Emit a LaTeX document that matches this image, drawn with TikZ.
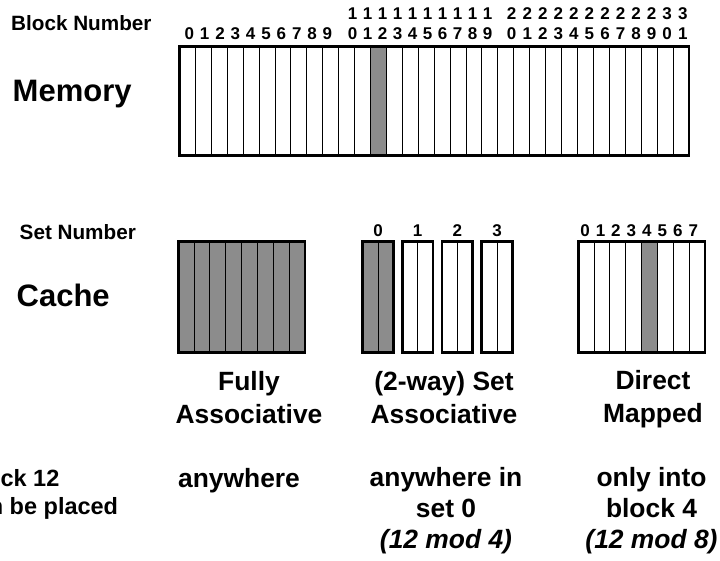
\documentclass[tikz,border=0pt]{standalone}
\usepackage{fontspec}
\setmainfont{Liberation Sans}
\usetikzlibrary{calc}
\definecolor{hit}{RGB}{140,140,140}
\begin{document}
\begin{tikzpicture}[x=1pt,y=-1pt,
  cellbox/.style={draw=black, line width=1pt, inner sep=0pt, outer sep=0pt,
    anchor=north west, minimum width=#1},
  memcell/.style={cellbox=15.92pt, minimum height=108.6pt},
  cachecell/.style={cellbox=15.83pt, minimum height=111pt},
  setcell/.style={cellbox=15.3pt, minimum height=111pt},
  frame/.style={draw=black, line width=2.6pt},
  digit/.style={anchor=base, inner sep=0pt, font=\fontsize{17}{20}\selectfont\bfseries},
  heading/.style={anchor=base west, inner sep=0pt, font=\fontsize{20.7}{24}\selectfont\bfseries},
  title/.style={anchor=base west, inner sep=0pt, font=\fontsize{31}{36}\selectfont\bfseries},
  caption/.style={anchor=base, inner sep=0pt, align=center, font=\fontsize{26.4}{33}\selectfont\bfseries},
  note/.style={caption, font=\fontsize{26.4}{31}\selectfont\bfseries},
]
\useasboundingbox (0,0) rectangle (720,561);
\clip (0,0) rectangle (720,561);

% ---- main memory: 32 blocks, block 12 highlighted ----
\foreach \i in {0,...,31}{
  \ifnum\i=12 \def\fc{hit}\else\def\fc{white}\fi
  \node[memcell, fill=\fc] (m\i) at ({179.5+15.92*\i},46.7) {};
}
\draw[frame] (m0.north west) rectangle (m31.south east);

% block numbers
\foreach \k in {0,...,9}
  \node[digit] (bn\k) at ({189.3+15.35*\k},40) {\k};
\foreach \k in {0,...,9}{
  \node[digit] (bn1\k) at ({352.7+15*\k},40) {\k};
  \node[digit] (tn1\k) at ({352.7+15*\k},19.3) {1};
}
\foreach \k in {0,...,11}{
  \pgfmathtruncatemacro{\lo}{mod(\k,10)}
  \pgfmathtruncatemacro{\hi}{\k<10 ? 2 : 3}
  \pgfmathtruncatemacro{\n}{20+\k}
  \node[digit] (bn\n) at ({511.7+15.55*\k},40) {\lo};
  \node[digit] (tn\n) at ({511.7+15.55*\k},19.3) {\hi};
}

% ---- fully associative cache ----
\foreach \i in {0,...,7}
  \node[cachecell, fill=hit] (fa\i) at ({178.3+15.83*\i},241.7) {};
\draw[frame] (fa0.north west) rectangle (fa7.south east);

% ---- 2-way set associative cache: 4 sets ----
\foreach \s in {0,...,3}{
  \ifnum\s=0 \def\fc{hit}\else\def\fc{white}\fi
  \foreach \j in {0,1}
    \node[setcell, fill=\fc] (sa\s\j) at ({362.7+39.67*\s+15.3*\j},241.7) {};
  \draw[frame] (sa\s0.north west) rectangle (sa\s1.south east);
  \node[digit] (sn\s) at ($(sa\s0.north east)+(0,-5)$) {\s};
}

% ---- direct mapped cache: 8 blocks, block 4 highlighted ----
\foreach \i in {0,...,7}{
  \ifnum\i=4 \def\fc{hit}\else\def\fc{white}\fi
  \node[cachecell, fill=\fc] (dm\i) at ({578.3+15.83*\i},241.7) {};
  \node[digit] (dn\i) at ({585+15.47*\i},236.7) {\i};
}
\draw[frame] (dm0.north west) rectangle (dm7.south east);

% ---- headings ----
\node[heading] (blocknum) at (11,30.7) {Block Number};
\node[title] (memory) at (12.5,102) {Memory};
\node[heading] (setnum) at (19.5,240) {Set Number};
\node[title] (cache) at (16.5,306.7) {Cache};

% ---- captions (anchored on the baseline of their last line) ----
\node[caption] (fully) at (249,423) {Fully\\Associative};
\node[caption] (setassoc) at (444,423) {(2-way) Set\\Associative};
\node[caption] (direct) at (653,422) {Direct\\Mapped};

\node[caption] (anywhere) at (239,487) {anywhere};
\node[note] (inset) at (446,548) {anywhere in\\set 0\\{\itshape (12 mod 4)}};
\node[note] (intoblock) at (651.5,548) {only into\\block 4\\{\itshape (12 mod 8)}};
\node[anchor=base west, inner sep=0pt, align=left, font=\fontsize{23.5}{28}\selectfont\bfseries] (placed) at (-37.5,514) {Block 12\\can be placed};
\end{tikzpicture}
\end{document}
